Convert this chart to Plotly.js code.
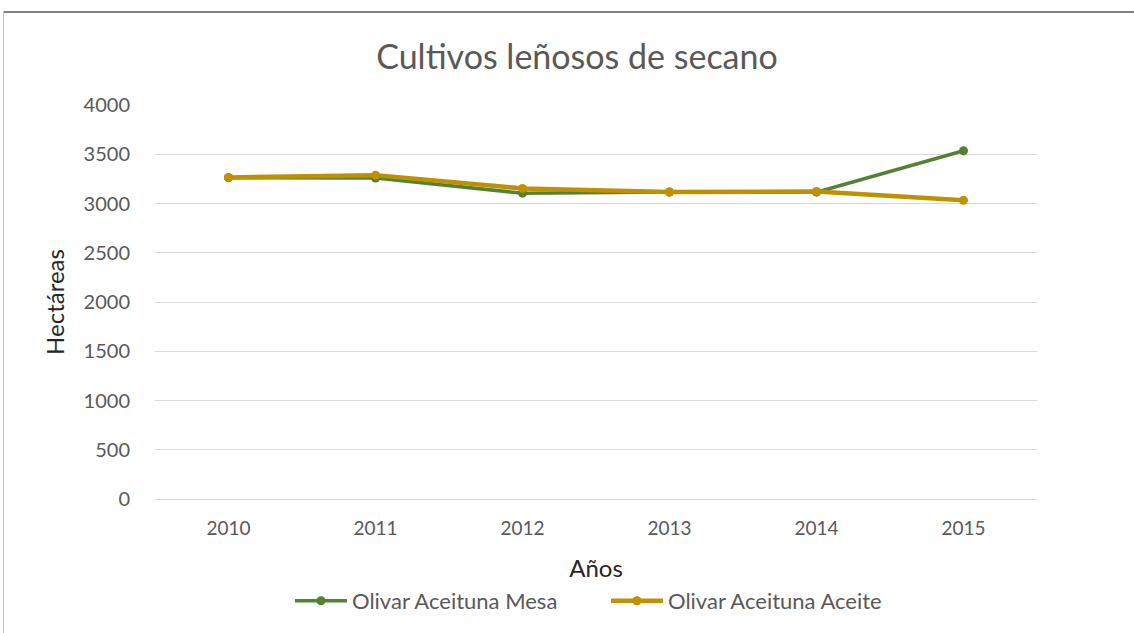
<!DOCTYPE html>
<html>
<head>
<meta charset="utf-8">
<script src="https://cdn.plot.ly/plotly-3.0.1.min.js"></script>
<style>
  html, body { margin: 0; padding: 0; background: #fff; }
  #wrap { position: relative; width: 1134px; height: 633px; overflow: hidden; }
  #chart { position: absolute; left: 0; top: 0; width: 1134px; height: 633px; }
  #btop { position: absolute; left: 3px; top: 11px; width: 1131px; height: 2px; background: #7f7f7f; z-index: 5; }
  #bleft { position: absolute; left: 3px; top: 11px; width: 1px; height: 622px; background: #bfbfbf; z-index: 5; }
</style>
</head>
<body>
<div id="wrap">
  <div id="chart"></div>
  <div id="btop"></div>
  <div id="bleft"></div>
</div>
<script>
const years = ['2010', '2011', '2012', '2013', '2014', '2015'];
const mesa = [3262, 3258, 3105, 3117, 3115, 3535];
const aceite = [3265, 3288, 3153, 3117, 3122, 3032];
const seriesNames = ['Olivar Aceituna Mesa', 'Olivar Aceituna Aceite'];
const yTicks = [0, 500, 1000, 1500, 2000, 2500, 3000, 3500, 4000];

const FONT = 'Lato, "Open Sans", "Noto Sans", sans-serif';

const traces = [
  {
    x: years, y: mesa, name: seriesNames[0], type: 'scatter', mode: 'lines+markers',
    line: { color: '#548235', width: 3.5 },
    marker: { color: '#548235', size: 9 }
  },
  {
    x: years, y: aceite, name: seriesNames[1], type: 'scatter', mode: 'lines+markers',
    line: { color: '#BF9000', width: 4.5 },
    marker: { color: '#BF9000', size: 9 }
  }
];

const layout = {
  width: 1134, height: 633,
  margin: { l: 155, r: 97, t: 105, b: 133 },
  paper_bgcolor: '#ffffff', plot_bgcolor: '#ffffff',
  font: { family: FONT, color: '#595959', size: 19 },
  showlegend: true,
  title: {
    text: 'Cultivos leñosos de secano',
    font: { family: FONT, size: 34, color: '#595959' },
    x: 577 / 1134, xanchor: 'center', xref: 'container',
    y: 1 - 57 / 633, yref: 'container', yanchor: 'middle'
  },
  xaxis: {
    type: 'category',
    range: [-0.5, 5.5],
    showgrid: false,
    zeroline: false,
    showline: true, linecolor: '#d9d9d9', linewidth: 1,
    ticks: 'outside', ticklen: 12, tickcolor: 'rgba(0,0,0,0)',
    tickfont: { family: FONT, size: 19, color: '#595959' },
    title: { text: 'Años', font: { family: FONT, size: 24, color: '#262626' }, standoff: 22 }
  },
  yaxis: {
    range: [0, 4000],
    tickvals: yTicks,
    ticktext: yTicks.map(String),
    showgrid: true, gridcolor: '#d9d9d9', gridwidth: 1,
    zeroline: false, showline: false,
    ticks: 'outside', ticklen: 20, tickcolor: 'rgba(0,0,0,0)',
    tickfont: { family: FONT, size: 20, color: '#595959' },
    title: { text: 'Hectáreas', font: { family: FONT, size: 24, color: '#262626' }, standoff: 12 }
  },
  legend: {
    orientation: 'h',
    x: (290 - 155) / 882, xanchor: 'left',
    y: (500 - 601) / 395, yanchor: 'middle',
    font: { family: FONT, size: 22, color: '#595959' },
    itemwidth: 52,
    entrywidth: 249, entrywidthmode: 'pixels',
    bgcolor: 'rgba(0,0,0,0)'
  }
};

Plotly.newPlot('chart', traces, layout, { displayModeBar: false, staticPlot: true });
</script>
</body>
</html>
